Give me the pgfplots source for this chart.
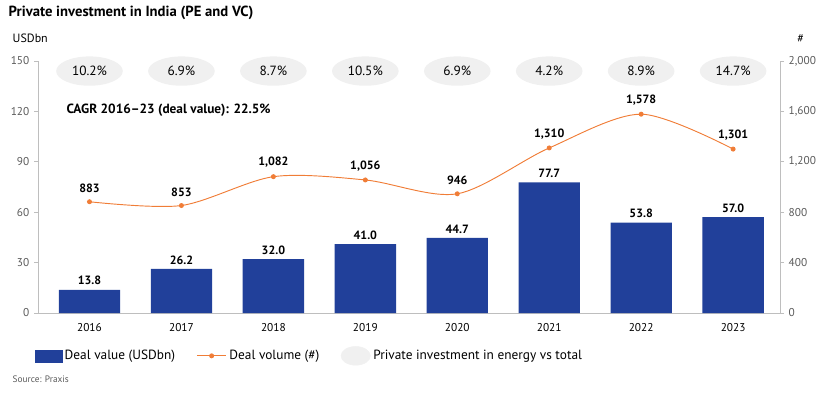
\documentclass[border=0pt]{standalone}
\usepackage{pgfplots}
\pgfplotsset{compat=1.18}
\usepackage{fontspec}
\setmainfont{PT Sans}
\usetikzlibrary{shapes.geometric}
\definecolor{barblue}{RGB}{33,64,154}
\definecolor{lineor}{RGB}{240,125,55}
\definecolor{ellgray}{RGB}{240,240,240}
\definecolor{axgray}{RGB}{190,190,190}
\definecolor{tickgray}{RGB}{90,90,90}
\pgfplotstableread{
x val
0 13.8
1 26.2
2 32.0
3 41.0
4 44.7
5 77.7
6 53.8
7 57.0
}\bars
\pgfplotstableread{
x vol
0 883
1 853
2 1082
3 1056
4 946
5 1310
6 1578
7 1301
}\vols
\pgfplotstableread{
x y lab
0 144 10.2\%
1 144 6.9\%
2 144 8.7\%
3 144 10.5\%
4 144 6.9\%
5 144 4.2\%
6 144 8.9\%
7 144 14.7\%
}\ells
\begin{document}
\begin{tikzpicture}[x=1pt,y=1pt]
\path (0,0) rectangle (622.5,294.75);
\node[anchor=north west,font=\fontsize{11}{12}\selectfont\bfseries] at (3,294) {Private investment in India (PE and VC)};
\node[anchor=west,font=\fontsize{9}{10}\selectfont] at (6,266) {USDbn};
\node[anchor=center,font=\fontsize{9}{10}\selectfont] at (600.5,266) {\#};
\node[anchor=west,font=\fontsize{7}{8}\selectfont,text=tickgray] at (6,10.5) {Source: Praxis};
\begin{axis}[
  at={(28.5pt,60pt)}, anchor=south west,
  scale only axis, width=556.5pt, height=189pt,
  xmin=-0.56, xmax=7.51, ymin=0, ymax=150,
  axis x line*=bottom, axis y line*=left,
  axis line style={axgray, line width=0.6pt},
  xtick=data, xticklabels={2016,2017,2018,2019,2020,2021,2022,2023},
  x tick style={draw=none},
  xticklabel style={font=\fontsize{8.5}{9}\selectfont, text=black, yshift=-1pt},
  ytick={0,30,...,150},
  y tick style={axgray, line width=0.6pt},
  tick align=outside, major tick length=3pt,
  yticklabel style={font=\fontsize{8.5}{9}\selectfont, text=tickgray},
  /pgf/number format/assume math mode=true,
  clip=false,
]
\addplot[ybar, bar width=46pt, fill=barblue, draw=none,
  nodes near coords, nodes near coords style={font=\fontsize{9}{10}\selectfont\bfseries, text=black,
  /pgf/number format/.cd, fixed, fixed zerofill, precision=1, assume math mode=true}]
  table[x=x,y=val]{\bars};
\addplot[only marks, mark=none, nodes near coords, point meta=explicit symbolic,
  nodes near coords style={ellipse, fill=ellgray, anchor=center, inner sep=0pt,
  minimum width=50pt, minimum height=22pt, font=\fontsize{10}{11}\selectfont, text=black}]
  table[x=x,y=y,meta=lab]{\ells};
\node[anchor=west,font=\fontsize{10}{11}\selectfont\bfseries] at (axis cs:-0.3,121) {CAGR 2016--23 (deal value): 22.5\%};
\end{axis}
\begin{axis}[
  at={(28.5pt,60pt)}, anchor=south west,
  scale only axis, width=556.5pt, height=189pt,
  xmin=-0.56, xmax=7.51, ymin=0, ymax=2000,
  axis x line=none, axis y line*=right,
  axis line style={axgray, line width=0.6pt},
  ytick={0,400,...,2000},
  y tick style={axgray, line width=0.6pt},
  tick align=outside, major tick length=3pt,
  yticklabel style={font=\fontsize{8.5}{9}\selectfont, text=tickgray,
    /pgf/number format/.cd, 1000 sep={,}},
  /pgf/number format/assume math mode=true,
  clip=false,
  legend style={at={(-0.01,-0.17)}, anchor=west, draw=none, fill=none,
    font=\fontsize{10}{11}\selectfont, legend columns=3,
    /tikz/every even column/.append style={column sep=14pt}},
  legend cell align=left,
]
\addlegendimage{legend image code/.code={\fill[barblue] (0pt,-4.5pt) rectangle (20pt,4.5pt);}}
\addlegendentry{Deal value (USDbn)}
\addplot[smooth, lineor, line width=0.7pt, mark=*, mark size=1.5pt,
  mark options={fill=lineor, draw=lineor},
  nodes near coords, nodes near coords style={font=\fontsize{9}{10}\selectfont\bfseries, text=black, yshift=3pt,
  /pgf/number format/.cd, 1000 sep={,}, assume math mode=true},
  legend image code/.code={\draw[lineor, line width=0.7pt] (0pt,0pt) -- (22pt,0pt); \fill[lineor] (11pt,0pt) circle (1.5pt);}]
  table[x=x,y=vol]{\vols};
\addlegendentry{Deal volume (\#)}
\addlegendimage{legend image code/.code={\fill[ellgray] (11pt,0pt) ellipse (11pt and 7pt);}}
\addlegendentry{Private investment in energy vs total}
\end{axis}
\end{tikzpicture}
\end{document}
